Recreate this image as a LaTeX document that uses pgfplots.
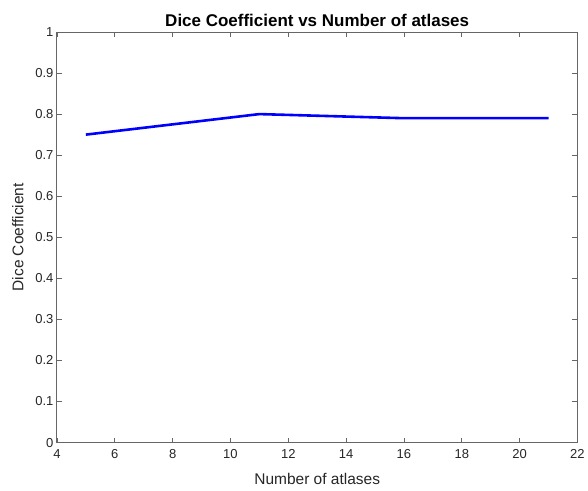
\documentclass[border=0pt]{standalone}
\usepackage{pgfplots}
\pgfplotsset{compat=1.18}
\usepackage{fontspec}
\setmainfont{Liberation Sans}
\begin{document}
\begin{tikzpicture}
\begin{axis}[
  scale only axis,
  width=521pt, height=411pt,
  xmin=4, xmax=22, ymin=0, ymax=1,
  xtick={4,6,...,22},
  ytick={0,0.1,...,1.0},
  yticklabels={0,0.1,0.2,0.3,0.4,0.5,0.6,0.7,0.8,0.9,1},
  tick align=inside,
  major tick length=5pt,
  axis line style={gray!80!black, line width=0.9pt},
  every tick/.style={gray!80!black, line width=0.8pt},
  tick label style={font=\fontsize{13}{15}\selectfont, text=black!85},
  xticklabel style={yshift=-3pt},
  /pgf/number format/assume math mode=true,
  title={\bfseries Dice Coefficient vs Number of atlases},
  title style={font=\fontsize{17}{20}\selectfont, yshift=-4pt},
  xlabel={Number of atlases},
  ylabel={Dice Coefficient},
  label style={font=\fontsize{15.5}{18}\selectfont, text=black!85},
  xlabel style={yshift=-8pt},
  ylabel style={yshift=5pt},
]
\addplot[blue, line width=2.6pt] coordinates {(5,0.75) (11,0.80) (16,0.79) (21,0.79)};
\end{axis}
\path ([xshift=-57pt,yshift=-48pt]current axis.south west) rectangle ([xshift=10pt,yshift=32pt]current axis.north east);
\end{tikzpicture}
\end{document}
